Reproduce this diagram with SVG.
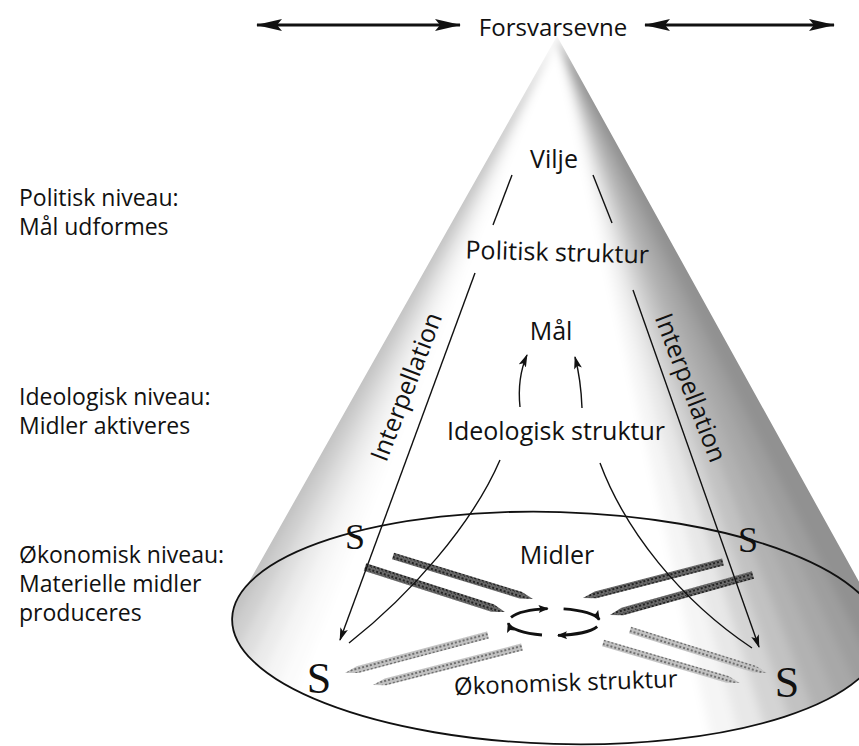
<svg xmlns="http://www.w3.org/2000/svg" width="859" height="746" viewBox="0 0 859 746">
<defs>
<style>
text{font-family:"Open Sans","Noto Sans","DejaVu Sans",sans-serif;fill:#111}
.lbl{font-size:23px}
.cl{font-size:25px;text-anchor:middle}
.s{font-family:"Liberation Serif","Times New Roman",serif;text-anchor:middle;fill:#111}
.ln{fill:none;stroke:#111;stroke-width:1.4}
.thick{fill:none;stroke:#111;stroke-width:3.2}
.cyc{fill:none;stroke:#111;stroke-width:2.8}
.barD{fill:url(#hatchD)}
.barL{fill:url(#hatchL)}
</style>
<pattern id="hatchD" patternUnits="userSpaceOnUse" width="4" height="4"><rect width="4" height="4" fill="#6a6a6a"/><rect width="2" height="2" fill="#222"/><rect x="2" y="2" width="1" height="1" fill="#333"/></pattern>
<pattern id="hatchL" patternUnits="userSpaceOnUse" width="4" height="4"><rect width="4" height="4" fill="#c2c2c2"/><rect width="2" height="2" fill="#6f6f6f"/></pattern>
<marker id="big" viewBox="0 0 26 12" refX="25" refY="6" markerWidth="26" markerHeight="12" markerUnits="userSpaceOnUse" orient="auto-start-reverse"><path d="M0,0 L26,6 L0,12 L5,6 Z" fill="#111"/></marker>
<marker id="ah" viewBox="0 0 13 8" refX="12" refY="4" markerWidth="13" markerHeight="8" markerUnits="userSpaceOnUse" orient="auto"><path d="M0,0 L13,4 L0,8 L3,4 Z" fill="#111"/></marker>
<marker id="ahs" viewBox="0 0 10 8" refX="9" refY="4" markerWidth="10" markerHeight="8" markerUnits="userSpaceOnUse" orient="auto"><path d="M0,0 L10,4 L0,8 L2,4 Z" fill="#111"/></marker>
<clipPath id="coneClip"><polygon points="557,36 232,612 879,618"/><ellipse cx="557" cy="628" rx="325" ry="116" transform="rotate(1.7 557 628)"/></clipPath>
<filter id="soft" x="-20%" y="-20%" width="140%" height="140%"><feGaussianBlur stdDeviation="5"/></filter>
</defs>
<rect width="859" height="746" fill="#ffffff"/>

<g id="cone-shading" clip-path="url(#coneClip)">
<g filter="url(#soft)" fill="#000">
<polygon points="557,36 100,760 158.8,760" opacity="0.24"/>
<polygon points="557,36 158.8,760 180.5,760" opacity="0.19"/>
<polygon points="557,36 180.5,760 202.2,760" opacity="0.13"/>
<polygon points="557,36 202.2,760 223.9,760" opacity="0.08"/>
<polygon points="557,36 223.9,760 245.7,760" opacity="0.04"/>
<polygon points="557,36 245.7,760 267.4,760" opacity="0.015"/>
<polygon points="557,36 716,760 745.2,760" opacity="0.04"/>
<polygon points="557,36 745.2,760 774.2,760" opacity="0.09"/>
<polygon points="557,36 774.2,760 803.2,760" opacity="0.17"/>
<polygon points="557,36 803.2,760 832.1,760" opacity="0.24"/>
<polygon points="557,36 832.1,760 861.1,760" opacity="0.30"/>
<polygon points="557,36 861.1,760 890,760" opacity="0.34"/>
<polygon points="557,36 890,760 919,760" opacity="0.38"/>
<polygon points="557,36 919,760 1100,760" opacity="0.43"/>
</g>
</g>

<g id="base-ellipse">
<ellipse cx="557" cy="628" rx="325" ry="116" transform="rotate(1.7 557 628)" fill="none" stroke="#111" stroke-width="1.8"/>
</g>

<g id="bars">
<polygon class="barD" transform="translate(393,556) rotate(17.07)" points="0,-3.5 133.5,-3.5 146.5,0 133.5,3.5 0,3.5"/>
<polygon class="barD" transform="translate(365,567) rotate(17.82)" points="0,-4 134,-4 147,0 134,4 0,4"/>
<polygon class="barD" transform="translate(723,562) rotate(165.58)" points="0,-3.5 131.6,-3.5 144.6,0 131.6,3.5 0,3.5"/>
<polygon class="barD" transform="translate(753,575) rotate(164.37)" points="0,-4 135.5,-4 148.5,0 135.5,4 0,4"/>
<polygon class="barL" transform="translate(488,635) rotate(165.12)" points="0,-3.5 135,-3.5 148,0 135,3.5 0,3.5"/>
<polygon class="barL" transform="translate(522,647) rotate(165.69)" points="0,-3.5 140.8,-3.5 153.8,0 140.8,3.5 0,3.5"/>
<polygon class="barL" transform="translate(630,630) rotate(17.43)" points="0,-3.5 130.6,-3.5 143.6,0 130.6,3.5 0,3.5"/>
<polygon class="barL" transform="translate(603,643) rotate(16.28)" points="0,-3.5 129.7,-3.5 142.7,0 129.7,3.5 0,3.5"/>
</g>

<g id="connectors">
<line class="thick" x1="257" y1="25" x2="460" y2="25" marker-start="url(#big)" marker-end="url(#big)"/>
<line class="thick" x1="645" y1="25" x2="834" y2="25" marker-start="url(#big)" marker-end="url(#big)"/>
<path class="ln" d="M512,175 L493,225"/>
<path class="ln" d="M475,273 L340,640" marker-end="url(#ah)"/>
<path class="ln" d="M593,175 L612,223"/>
<path class="ln" d="M633,290 L759,647" marker-end="url(#ah)"/>
<path class="ln" d="M500,460 C472,525 410,595 349,643"/>
<path class="ln" d="M600,463 C625,530 680,600 752,648"/>
<path class="ln" d="M520,407 Q517,378 527,355" marker-end="url(#ah)"/>
<path class="ln" d="M582,408 Q581,380 575,357" marker-end="url(#ah)"/>
<path class="cyc" d="M511,617.4 A46,13.5 0 0 1 547.6,608.6" marker-end="url(#ahs)"/>
<path class="cyc" d="M563.6,608.8 A46,13.5 0 0 1 599.3,619.7" marker-end="url(#ahs)"/>
<path class="cyc" d="M597.2,626.6 A46,13.5 0 0 1 558,635.4" marker-end="url(#ahs)"/>
<path class="cyc" d="M542,635 A46,13.5 0 0 1 508.2,623.2" marker-end="url(#ahs)"/>
</g>

<g id="forsvarsevne"><text class="cl" x="553" y="36" style="font-size:24px">Forsvarsevne</text></g>
<g id="vilje"><text class="cl" x="554" y="168">Vilje</text></g>
<g id="politisk-struktur"><text class="cl" x="557" y="261" transform="rotate(1.5 557 261)">Politisk struktur</text></g>
<g id="maal"><text class="cl" x="551" y="340">Mål</text></g>
<g id="ideologisk-struktur"><text class="cl" x="556" y="440">Ideologisk struktur</text></g>
<g id="midler"><text class="cl" x="557" y="564">Midler</text></g>
<g id="okonomisk-struktur"><text class="cl" x="566" y="691" style="font-size:24px" transform="rotate(-2 566 691)">Økonomisk struktur</text></g>
<g id="interpellation-left"><text class="cl" transform="translate(407,387) rotate(-69)" x="0" y="8">Interpellation</text></g>
<g id="interpellation-right"><text class="cl" transform="translate(690,388) rotate(69)" x="0" y="8">Interpellation</text></g>

<g id="s-upper-left"><text class="s" x="355" y="549" font-size="36">S</text></g>
<g id="s-upper-right"><text class="s" x="748" y="552" font-size="36">S</text></g>
<g id="s-lower-left"><text class="s" x="319" y="693" font-size="44">S</text></g>
<g id="s-lower-right"><text class="s" x="787" y="697" font-size="44">S</text></g>

<g id="lbl-politisk"><text class="lbl" x="19" y="206">Politisk niveau:</text><text class="lbl" x="19" y="235">Mål udformes</text></g>
<g id="lbl-ideologisk"><text class="lbl" x="19" y="405">Ideologisk niveau:</text><text class="lbl" x="19" y="434">Midler aktiveres</text></g>
<g id="lbl-okonomisk"><text class="lbl" x="19" y="563">Økonomisk niveau:</text><text class="lbl" x="19" y="592">Materielle midler</text><text class="lbl" x="19" y="621">produceres</text></g>
</svg>
